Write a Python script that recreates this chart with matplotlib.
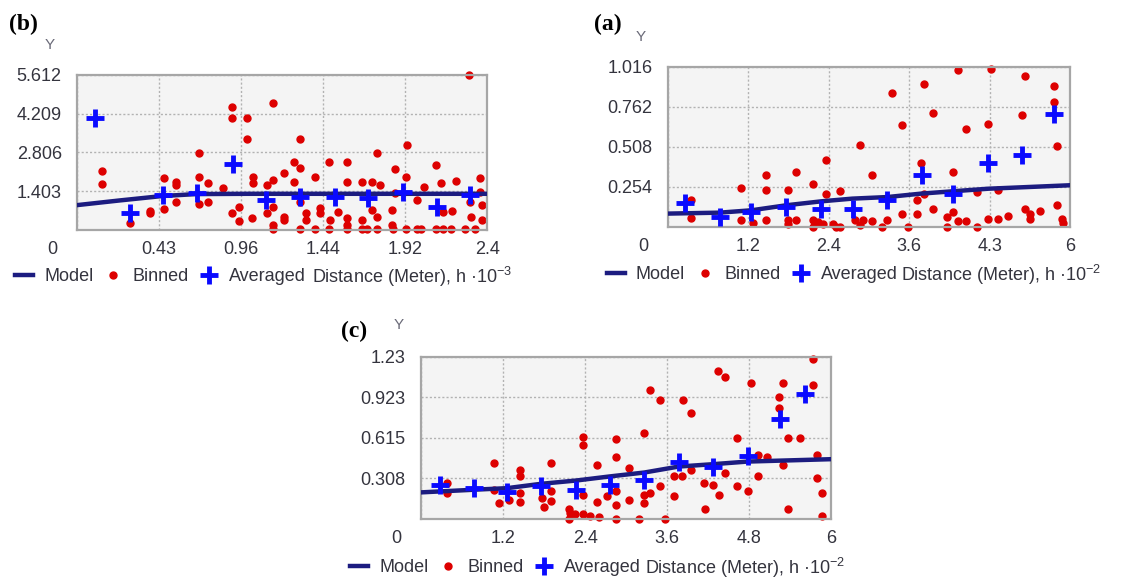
import matplotlib.pyplot as plt
from matplotlib.transforms import ScaledTranslation

plt.rcParams['font.family'] = ['Liberation Sans', 'DejaVu Sans']
plt.rcParams['mathtext.fontset'] = 'custom'
plt.rcParams['mathtext.rm'] = 'Liberation Sans'
plt.rcParams['mathtext.it'] = 'Liberation Sans:italic'

TEXT_COLOR = '#34343e'
MODEL_COLOR = '#1c1c80'
BINNED_COLOR = '#dd0000'
AVERAGED_COLOR = '#0a0aff'

# panel (b)
bBinnedX = [0.148, 0.148, 0.312, 0.429, 0.429, 0.51, 0.51, 0.579, 0.579, 0.579, 0.715, 0.715, 0.715,
            0.764, 0.764, 0.906, 0.906, 0.994, 0.994, 0.857, 0.906, 0.949, 0.949, 1.032, 1.032, 1.027,
            1.145, 1.11, 1.145, 1.11, 1.145, 1.145, 1.145, 1.212, 1.212, 1.212, 1.27, 1.305, 1.305,
            1.27, 1.305, 1.34, 1.34, 1.305, 1.393, 1.393, 1.422, 1.422, 1.477, 1.48, 1.477, 1.578,
            1.578, 1.529, 1.578, 1.578, 1.578, 1.666, 1.666, 1.666, 1.695, 1.753, 1.724, 1.773, 1.724,
            1.753, 1.753, 1.864, 1.864, 1.929, 1.923, 1.841, 1.841, 1.851, 1.923, 1.987, 1.987, 2.03,
            2.016, 2.104, 2.133, 2.143, 2.104, 2.143, 2.197, 2.19, 2.221, 2.295, 2.299, 2.308, 2.269,
            2.357, 2.357, 2.373, 2.373, 2.328]
bBinnedY = [2.14, 1.65, 0.27, 0.70, 0.60, 1.87, 0.75, 1.75, 1.63, 1.03, 2.78, 1.93, 0.94,
            1.69, 1.03, 4.47, 4.04, 4.04, 3.28, 1.51, 0.60, 0.845, 0.33, 1.93, 1.69, 0.42,
            4.61, 1.63, 1.81, 0.60, 0.845, 0.18, 0.02, 2.05, 0.48, 0.36, 2.45, 3.28, 2.23,
            1.75, 1.03, 0.60, 0.36, 0.02, 1.93, 0.02, 0.78, 0.60, 2.45, 0.36, 0.02, 2.45,
            1.75, 0.66, 0.42, 0.18, 0.02, 1.75, 0.36, 0.02, 0.02, 2.78, 1.75, 1.63, 0.72,
            0.48, 0.02, 2.20, 1.33, 3.08, 1.93, 0.72, 0.18, 0.02, 0.02, 1.09, 0.02, 1.57,
            0.02, 2.35, 1.71, 0.66, 0.02, 0.02, 0.70, 0.02, 1.77, 5.61, 1.03, 0.48, 0.02,
            1.87, 1.39, 0.91, 0.36, 0.02]
bAveragedX = [0.103, 0.308, 0.506, 0.705, 0.91, 1.105, 1.305, 1.51, 1.705, 1.909, 2.108, 2.30]
bAveragedY = [4.04, 0.60, 1.27, 1.33, 2.39, 1.09, 1.21, 1.18, 1.15, 1.39, 0.845, 1.27]
bModelX = [0, 0.25, 0.5, 0.7, 1.0, 1.5, 2.0, 2.4]
bModelY = [0.90, 1.07, 1.23, 1.30, 1.31, 1.31, 1.31, 1.31]
bXTicks = [0, 0.48, 0.96, 1.44, 1.92, 2.4]
bXLabels = ['0', '0.43', '0.96', '1.44', '1.92', '2.4']
bYTicks = [1.403, 2.806, 4.209, 5.612]
bYLabels = ['1.403', '2.806', '4.209', '5.612']

# panel (a)
aBinnedX = [0.349, 0.349, 1.085, 1.085, 1.27, 1.459, 1.459, 1.459, 1.792, 1.792, 1.792, 1.917, 1.917,
            2.166, 2.166, 2.166, 2.24, 2.365, 2.365, 2.315, 2.465, 2.514, 2.574, 2.574, 2.863, 2.789,
            2.863, 2.913, 3.037, 3.037, 3.187, 3.262, 3.336, 3.485, 3.485, 3.575, 3.71, 3.769, 3.71,
            3.82, 3.82, 3.958, 3.958, 4.158, 4.158, 4.257, 4.257, 4.332, 4.332, 4.447, 4.447, 4.606,
            4.606, 4.78, 4.82, 4.78, 4.92, 4.92, 5.079, 5.278, 5.328, 5.328, 5.402, 5.402, 5.552,
            5.761, 5.761, 5.811, 5.811, 5.876, 5.89]
aBinnedY = [0.169, 0.059, 0.25, 0.042, 0.025, 0.328, 0.237, 0.047, 0.237, 0.042, 0.021, 0.349, 0.042,
            0.271, 0.042, 0.0, 0.03, 0.423, 0.207, 0.021, 0.021, 0.0, 0.226, 0.0, 0.523, 0.042,
            0.01, 0.042, 0.328, 0.038, 0.0, 0.042, 0.851, 0.646, 0.085, 0.0, 0.085, 0.409, 0.169,
            0.91, 0.207, 0.724, 0.112, 0.0, 0.064, 0.349, 0.095, 0.995, 0.038, 0.624, 0.038, 0.0,
            0.222, 0.652, 1.006, 0.049, 0.233, 0.053, 0.068, 0.709, 0.959, 0.116, 0.085, 0.053, 0.102,
            0.893, 0.794, 0.512, 0.138, 0.053, 0.025]
aAveragedX = [0.259, 0.772, 1.245, 1.768, 2.29, 2.754, 3.27, 3.784, 4.257, 4.78, 5.278, 5.761]
aAveragedY = [0.155, 0.064, 0.095, 0.127, 0.116, 0.112, 0.169, 0.328, 0.207, 0.409, 0.455, 0.72]
aModelX = [0, 0.77, 1.245, 1.768, 2.29, 2.75, 3.27, 3.78, 4.26, 4.78, 6.0]
aModelY = [0.085, 0.091, 0.106, 0.138, 0.163, 0.18, 0.19, 0.212, 0.227, 0.243, 0.265]
aXTicks = [0, 1.2, 2.4, 3.6, 4.8, 6]
aXLabels = ['0', '1.2', '2.4', '3.6', '4.3', '6']
aYTicks = [0.254, 0.508, 0.762, 1.016]
aYLabels = ['0.254', '0.508', '0.762', '1.016']

# panel (c)
cBinnedX = [0.38, 0.38, 1.063, 1.063, 1.136, 1.282, 1.452, 1.452, 1.452, 1.452, 1.769, 1.794, 1.901,
            1.901, 1.901, 2.159, 2.159, 2.174, 2.257, 2.364, 2.364, 2.364, 2.364, 2.476, 2.574, 2.574,
            2.598, 2.72, 2.851, 2.851, 2.851, 2.851, 2.851, 3.037, 3.037, 3.183, 3.256, 3.256, 3.256,
            3.344, 3.344, 3.5, 3.5, 3.573, 3.695, 3.695, 3.816, 3.831, 3.948, 3.948, 4.143, 4.158,
            4.27, 4.343, 4.45, 4.353, 4.45, 4.621, 4.621, 4.791, 4.825, 4.937, 4.937, 5.059, 5.244,
            5.244, 5.303, 5.303, 5.376, 5.376, 5.547, 5.732, 5.732, 5.79, 5.79, 5.863, 5.863]
cBinnedY = [0.272, 0.197, 0.423, 0.222, 0.121, 0.146, 0.373, 0.33, 0.197, 0.126, 0.159, 0.091, 0.423,
            0.209, 0.134, 0.076, 0.0, 0.045, 0.04, 0.625, 0.562, 0.184, 0.04, 0.02, 0.411, 0.126,
            0.015, 0.171, 0.605, 0.474, 0.209, 0.108, 0.0, 0.386, 0.141, 0.0, 0.65, 0.184, 0.121,
            0.983, 0.197, 0.902, 0.247, 0.0, 0.171, 0.33, 0.33, 0.902, 0.801, 0.373, 0.277, 0.076,
            0.26, 1.124, 1.079, 0.184, 0.348, 0.612, 0.247, 0.209, 1.033, 0.486, 0.323, 0.474, 0.839,
            0.923, 1.033, 0.411, 0.612, 0.076, 0.612, 1.217, 1.016, 0.486, 0.31, 0.197, 0.02]
cAveragedX = [0.283, 0.77, 1.257, 1.755, 2.271, 2.759, 3.266, 3.768, 4.27, 4.777, 5.254, 5.62]
cAveragedY = [0.26, 0.234, 0.202, 0.247, 0.222, 0.26, 0.297, 0.436, 0.398, 0.481, 0.756, 0.948]
cModelX = [0, 0.77, 1.257, 1.755, 2.27, 2.76, 3.27, 3.77, 4.27, 4.78, 6.0]
cModelY = [0.202, 0.222, 0.234, 0.267, 0.292, 0.323, 0.353, 0.398, 0.416, 0.436, 0.454]
cXTicks = [0, 1.2, 2.4, 3.6, 4.8, 6]
cXLabels = ['0', '1.2', '2.4', '3.6', '4.8', '6']
cYTicks = [0.308, 0.615, 0.923, 1.23]
cYLabels = ['0.308', '0.615', '0.923', '1.23']


def drawPanel(fig, rect, binnedX, binnedY, avgX, avgY, modelX, modelY,
              xTicks, xLabels, yTicks, yLabels, axisLabel, legendX, labelX):
  ax = fig.add_axes(rect)
  ax.set_facecolor('#f4f4f4')
  for spine in ax.spines.values():
    spine.set_color('#a6a6a6')
    spine.set_linewidth(1.6)
  ax.set_xlim(0, xTicks[-1])
  ax.set_ylim(0, yTicks[-1])
  ax.set_axisbelow(True)
  ax.grid(True, color='#b2b2b2', linestyle=(0, (1.5, 1.5)), linewidth=1)

  ax.plot(modelX, modelY, color=MODEL_COLOR, lw=3.2, label='Model', zorder=3)
  ax.plot(binnedX, binnedY, 'o', color=BINNED_COLOR, ms=5, label='Binned', clip_on=False, zorder=2)
  ax.plot(avgX, avgY, '+', color=AVERAGED_COLOR, ms=13, mew=3.5, label='Averaged', clip_on=False, zorder=4)

  ax.set_xticks(xTicks, xLabels)
  ax.set_yticks(yTicks, yLabels)
  ax.tick_params(axis='both', length=0, labelsize=13, labelcolor=TEXT_COLOR)
  ax.tick_params(axis='x', pad=8)
  ax.tick_params(axis='y', pad=11)
  # the shared "0" sits left of the corner
  first = ax.xaxis.get_major_ticks()[0].label1
  first.set_transform(first.get_transform() + ScaledTranslation(-18 / 72, 0, fig.dpi_scale_trans))

  leg = ax.legend(loc='center left', bbox_to_anchor=(legendX, -0.30), ncol=3, frameon=False,
                  fontsize=13, handlelength=1.0, handletextpad=0.6, columnspacing=0.6,
                  borderpad=0, borderaxespad=0)
  for t in leg.get_texts():
    t.set_color(TEXT_COLOR)
  ax.text(labelX, -0.30, axisLabel, transform=ax.transAxes, ha='left', va='center',
          fontsize=13, color=TEXT_COLOR)
  return ax


fig = plt.figure(figsize=(11.38, 5.78), dpi=100)

drawPanel(fig, [0.0677, 0.6021, 0.3603, 0.2682], bBinnedX, bBinnedY, bAveragedX, bAveragedY,
          bModelX, bModelY, bXTicks, bXLabels, bYTicks, bYLabels,
          'Distance (Meter), h ·10$^{-3}$', -0.151, 0.572)
drawPanel(fig, [0.587, 0.6073, 0.3533, 0.2768], aBinnedX, aBinnedY, aAveragedX, aAveragedY,
          aModelX, aModelY, aXTicks, aXLabels, aYTicks, aYLabels,
          'Distance (Meter), h ·10$^{-2}$', -0.152, 0.58)
drawPanel(fig, [0.37, 0.1021, 0.3603, 0.2803], cBinnedX, cBinnedY, cAveragedX, cAveragedY,
          cModelX, cModelY, cXTicks, cXLabels, cYTicks, cYLabels,
          'Distance (Meter), h ·10$^{-2}$', -0.173, 0.545)

for tag, x, y in [('(b)', 0.021, 0.957), ('(a)', 0.534, 0.957), ('(c)', 0.311, 0.426)]:
  fig.text(x, y, tag, ha='center', va='center', fontsize=17, fontweight='bold',
           family='Liberation Serif', color='black')
for x, y in [(0.044, 0.922), (0.563, 0.936), (0.35, 0.438)]:
  fig.text(x, y, 'Y', ha='center', va='center', fontsize=11, color='#6a6a78')

fig.savefig('out.png', dpi=100)
